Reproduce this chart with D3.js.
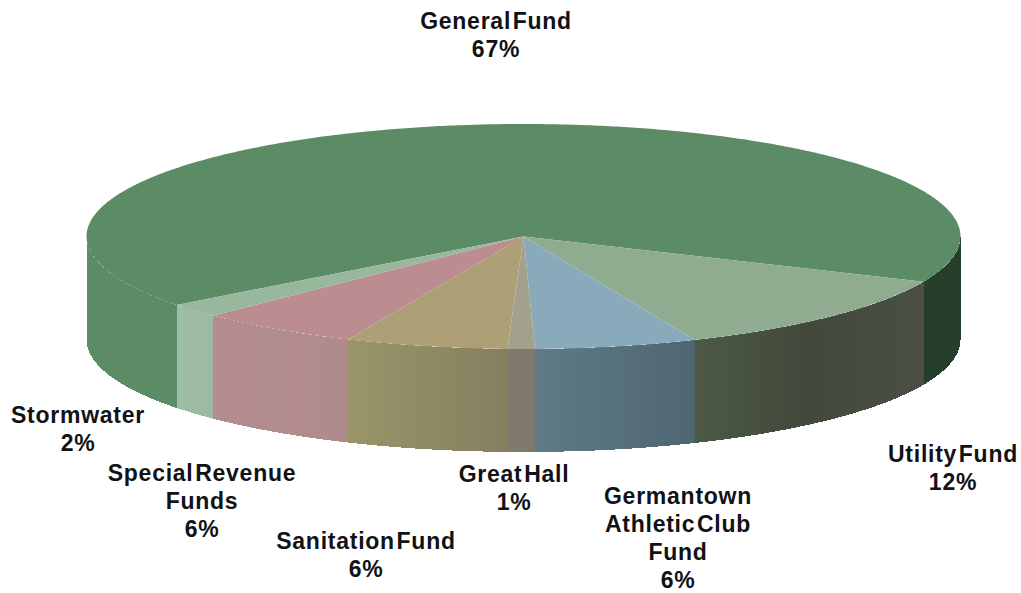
<!DOCTYPE html>
<html>
<head>
<meta charset="utf-8">
<script src="https://cdn.jsdelivr.net/npm/d3@7"></script>
<style>
  html, body { margin: 0; padding: 0; background: #fff; }
  svg { display: block; }
  text { font-family: "Liberation Sans", Arial, sans-serif; font-weight: 700; font-size: 23px; letter-spacing: 0.75px; word-spacing: -5.5px; fill: #101216; }
</style>
</head>
<body>
<svg id="chart" width="1021" height="593"></svg>
<script>
// Budget share by fund, clockwise from the back-left of the disc.
const funds = ["General Fund", "Utility Fund", "Germantown Athletic Club Fund", "Great Hall", "Sanitation Fund", "Special Revenue Funds", "Stormwater"];
const shares = [67, 12, 6, 1, 6, 6, 2];

// Label wrapping and where each block's first baseline sits.
const labelLines = [["General Fund"], ["Utility Fund"], ["Germantown", "Athletic Club", "Fund"], ["Great Hall"], ["Sanitation Fund"], ["Special Revenue", "Funds"], ["Stormwater"]];
const labelAnchors = [[496, 29], [953, 462], [678, 504], [514, 482], [366, 549], [202, 481], [78, 423]];

// Top face colour, then wall colour at the left and right end of each wall run.
const topColours = ["#5c8c65", "#8fac90", "#89aaba", "#a3a18d", "#ad9f76", "#bb8c90", "#98b79d"];
const wallColours = [
  [["#5c8c65", "#5c8c65"], ["#263f2b", "#263f2b"]],
  [["#4d5945", "#42493b", "#4b4f45"]],
  [["#5f7b87", "#4e6672"]],
  [["#7f7a6d", "#7f7a6d"]],
  [["#9a9569", "#857f5f"]],
  [["#b38d91", "#b08b8d"]],
  [["#9fbca5", "#9cb9a1"]]
];

const disc = { cx: 523.5, cy: 236.5, rx: 437, ry: 112.5, depth: 103 };
const startDeg = 232.5;

const svg = d3.select("#chart");
const defs = svg.append("defs");

const pie = d3.pie().sort(null).value(d => d)
  .startAngle(startDeg * Math.PI / 180)
  .endAngle((startDeg + 360) * Math.PI / 180);
const arcs = pie(shares);

const px = a => disc.cx + disc.rx * Math.sin(a);
const py = a => disc.cy - disc.ry * Math.cos(a);
const line = d3.line();
const sampleStep = Math.PI / 360;

function sampleAngles(a0, a1) {
  const n = Math.max(2, Math.ceil((a1 - a0) / sampleStep));
  return d3.range(n + 1).map(i => a0 + (a1 - a0) * i / n);
}

// Front-facing wall runs: the part of [a0, a1] that falls in the lower half of the disc.
function frontRuns(a0, a1) {
  const runs = [];
  for (let k = -1; k <= 2; k++) {
    const lo = Math.PI / 2 + k * 2 * Math.PI;
    const hi = lo + Math.PI;
    const s = Math.max(a0, lo), e = Math.min(a1, hi);
    if (e > s) runs.push([s, e]);
  }
  return runs.sort((p, q) => px(p[0]) - px(q[0]));
}

const walls = svg.append("g").attr("shape-rendering", "crispEdges");
arcs.forEach((slice, i) => {
  const runs = frontRuns(slice.startAngle, slice.endAngle);
  runs.forEach((run, r) => {
    const angles = sampleAngles(run[0], run[1]);
    const upper = angles.map(a => [px(a), py(a)]);
    const lower = angles.map(a => [px(a), py(a) + disc.depth]).reverse();
    const xs = upper.map(p => p[0]);
    const tones = wallColours[i][r] || wallColours[i][0];
    const id = "wall-" + i + "-" + r;
    const grad = defs.append("linearGradient").attr("id", id)
      .attr("gradientUnits", "userSpaceOnUse")
      .attr("x1", d3.min(xs)).attr("x2", d3.max(xs)).attr("y1", 0).attr("y2", 0);
    tones.forEach((c, j) => grad.append("stop")
      .attr("offset", j / (tones.length - 1)).attr("stop-color", c));
    walls.append("path")
      .attr("d", line(upper.concat(lower)) + "Z")
      .attr("fill", "url(#" + id + ")");
  });
});

// Top faces are filled wedges of the projected circle.
const tops = svg.append("g");
arcs.forEach((slice, i) => {
  const rim = sampleAngles(slice.startAngle, slice.endAngle).map(a => [px(a), py(a)]);
  tops.append("path")
    .attr("d", line([[disc.cx, disc.cy]].concat(rim)) + "Z")
    .attr("fill", topColours[i]);
});

// Each label is the fund name, wrapped, with its share on the last line.
const labels = svg.append("g").attr("text-anchor", "middle");
funds.forEach((name, i) => {
  const lines = labelLines[i].concat([shares[i] + "%"]);
  const t = labels.append("text").attr("data-fund", name);
  lines.forEach((s, j) => t.append("tspan")
    .attr("x", labelAnchors[i][0])
    .attr("y", labelAnchors[i][1] + j * 28)
    .text(s));
});
</script>
</body>
</html>
